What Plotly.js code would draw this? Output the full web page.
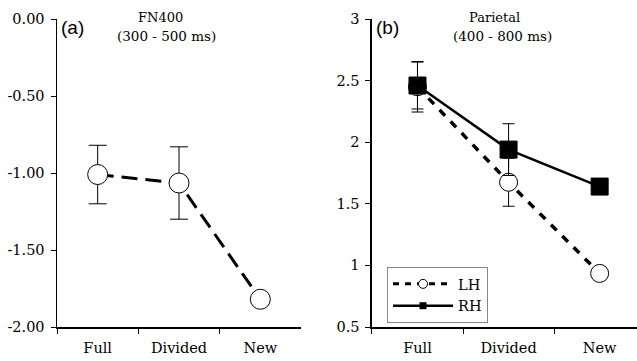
<!DOCTYPE html>
<html>
<head>
<meta charset="utf-8">
<script src="https://cdn.plot.ly/plotly-3.0.1.min.js"></script>
<style>html,body{margin:0;padding:0;background:#fff;}#chart{width:637px;height:361px;}</style>
</head>
<body>
<div id="chart"></div>
<script>
var categories = ["Full", "Divided", "New"];
var fn400 = [-1.01, -1.065, -1.82];
var fn400Err = [0.19, 0.235, 0];
var lhValues = [2.45, 1.675, 0.935];
var lhErr = [0.205, 0.195, 0];
var rhValues = [2.46, 1.94, 1.64];
var rhErr = [0.19, 0.21, 0];
var leftTicks = [0, -0.5, -1, -1.5, -2];
var leftTickText = ["0.00", "-0.50", "-1.00", "-1.50", "-2.00"];
var rightTicks = [3, 2.5, 2, 1.5, 1, 0.5];
var rightTickText = ["3", "2.5", "2", "1.5", "1", "0.5"];

var serif = "DejaVu Serif, serif";
var sans = "Liberation Sans, Arial, sans-serif";

var traces = [
  {
    x: categories, y: fn400, xaxis: "x", yaxis: "y", type: "scatter", mode: "lines+markers",
    showlegend: false,
    line: {color: "#000", width: 3, dash: "16px,8px"},
    marker: {symbol: "circle", size: 20, color: "#fff", line: {color: "#000", width: 1}},
    error_y: {type: "data", array: fn400Err, visible: true, color: "#000", thickness: 1, width: 9}
  },
  {
    x: categories, y: lhValues, xaxis: "x2", yaxis: "y2", type: "scatter", mode: "lines+markers",
    showlegend: false,
    line: {color: "#000", width: 3.5, dash: "8px,8px"},
    marker: {symbol: "circle", size: 18, color: "#fff", line: {color: "#000", width: 1}},
    error_y: {type: "data", array: lhErr, visible: true, color: "#000", thickness: 1, width: 6}
  },
  {
    x: categories, y: rhValues, xaxis: "x2", yaxis: "y2", type: "scatter", mode: "lines+markers",
    showlegend: false,
    line: {color: "#000", width: 2.5},
    marker: {symbol: "square", size: 17, color: "#000", line: {color: "#000", width: 1}},
    error_y: {type: "data", array: rhErr, visible: true, color: "#000", thickness: 1, width: 6}
  },
  {
    x: [null], y: [null], xaxis: "x2", yaxis: "y2", type: "scatter", mode: "lines+markers",
    name: "LH", showlegend: true,
    line: {color: "#000", width: 3, dash: "6px,6px"},
    marker: {symbol: "circle", size: 9, color: "#fff", line: {color: "#000", width: 1}}
  },
  {
    x: [null], y: [null], xaxis: "x2", yaxis: "y2", type: "scatter", mode: "lines+markers",
    name: "RH", showlegend: true,
    line: {color: "#000", width: 2.5},
    marker: {symbol: "square", size: 7, color: "#000"}
  }
];

var xCommon = {
  type: "category", categoryorder: "array", categoryarray: categories,
  showline: true, linecolor: "#000", linewidth: 1.5, mirror: false,
  ticks: "outside", tickson: "boundaries", ticklen: 5, tickcolor: "#000", tickwidth: 1,
  ticklabelstandoff: 7,
  showgrid: false, zeroline: false, fixedrange: true,
  tickfont: {family: serif, size: 14.5, color: "#000"}
};
var yCommon = {
  showline: true, linecolor: "#000", linewidth: 1.5,
  ticks: "outside", ticklen: 5, tickcolor: "#000", tickwidth: 1,
  ticklabelstandoff: 3,
  showgrid: false, zeroline: false, fixedrange: true,
  tickfont: {family: serif, size: 14.5, color: "#000"}
};

var layout = {
  width: 637, height: 361,
  margin: {l: 57, r: 0, t: 19, b: 34},
  paper_bgcolor: "#fff", plot_bgcolor: "#fff",
  showlegend: true,
  xaxis: Object.assign({}, xCommon, {domain: [0, 0.4207], range: [-0.5, 2.5], anchor: "y"}),
  yaxis: Object.assign({}, yCommon, {range: [-2, 0], tickvals: leftTicks, ticktext: leftTickText, anchor: "x"}),
  xaxis2: Object.assign({}, xCommon, {domain: [0.543, 1], range: [-0.5, 2.41], anchor: "y2"}),
  yaxis2: Object.assign({}, yCommon, {range: [0.5, 3], tickvals: rightTicks, ticktext: rightTickText, anchor: "x2"}),
  legend: {
    x: 0.569, y: 0.195, xanchor: "left", yanchor: "top",
    bgcolor: "#fff", bordercolor: "#888", borderwidth: 1,
    font: {family: serif, size: 14.5, color: "#000"},
    itemwidth: 60, tracegroupgap: 0
  },
  annotations: [
    {text: "(a)", xref: "paper", yref: "paper", x: 0.003, y: 1.012, xanchor: "left", yanchor: "top", showarrow: false, font: {family: sans, size: 19, color: "#000"}},
    {text: "FN400", xref: "paper", yref: "paper", x: (160 - 57) / 580, y: 1.035, xanchor: "center", yanchor: "top", showarrow: false, font: {family: serif, size: 13, color: "#000"}},
    {text: "(300 - 500 ms)", xref: "paper", yref: "paper", x: (166 - 57) / 580, y: 0.977, xanchor: "center", yanchor: "top", showarrow: false, font: {family: serif, size: 13.5, color: "#000"}},
    {text: "(b)", xref: "paper", yref: "paper", x: (374 - 57) / 580, y: 1.012, xanchor: "left", yanchor: "top", showarrow: false, font: {family: sans, size: 19, color: "#000"}},
    {text: "Parietal", xref: "paper", yref: "paper", x: (494 - 57) / 580, y: 1.035, xanchor: "center", yanchor: "top", showarrow: false, font: {family: serif, size: 13, color: "#000"}},
    {text: "(400 - 800 ms)", xref: "paper", yref: "paper", x: (502 - 57) / 580, y: 0.977, xanchor: "center", yanchor: "top", showarrow: false, font: {family: serif, size: 13.5, color: "#000"}}
  ]
};

Plotly.newPlot("chart", traces, layout, {displayModeBar: false, staticPlot: true});
</script>
</body>
</html>
